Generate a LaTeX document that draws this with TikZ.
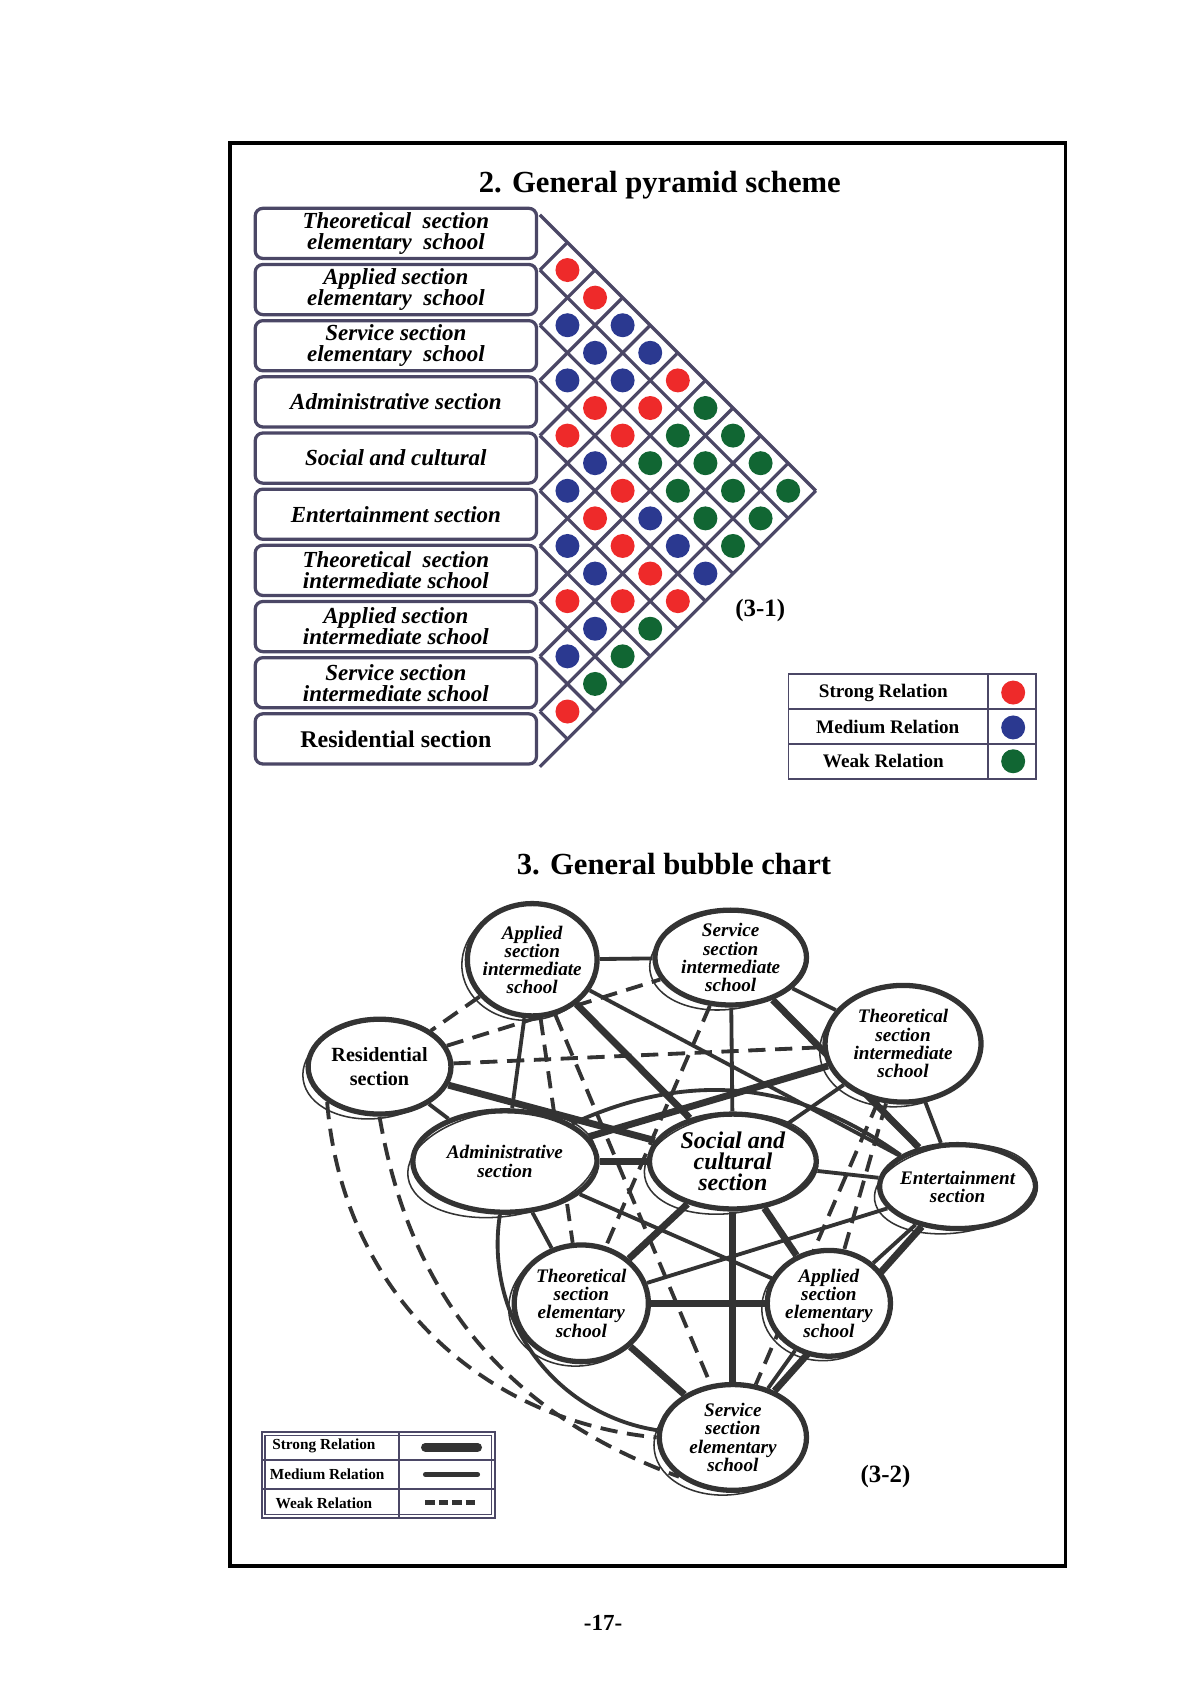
\documentclass[tikz,border=0pt]{standalone}
\usepackage{fontspec}
\setmainfont{Liberation Serif}
\usetikzlibrary{shapes.geometric}
\definecolor{pl}{HTML}{4B4766}
\definecolor{rd}{HTML}{EE2A2A}
\definecolor{bl}{HTML}{2B3990}
\definecolor{gn}{HTML}{116633}
\definecolor{ink}{HTML}{333333}
\begin{document}
\begin{tikzpicture}[x=0.02cm,y=-0.02cm,
  lbox/.style={draw=pl,line width=1.7pt,rounded corners=4pt,minimum width=5.16cm,minimum height=0.92cm,align=center,font=\fontsize{12}{11}\selectfont\bfseries\itshape,inner sep=0pt},
  bub/.style={ellipse,draw=ink,line width=2.2pt,fill=white,inner sep=0pt},
  sk/.style={draw=ink,line width=0.8pt},
  st/.style={draw=ink,line width=3.6pt},
  md/.style={draw=ink,line width=2pt},
  wk/.style={draw=ink,line width=2pt,dash pattern=on 9pt off 5pt},
  btx/.style={align=center,font=\fontsize{10}{9.5}\selectfont\bfseries\itshape},
  ttl/.style={font=\fontsize{16}{18}\selectfont\bfseries}]
\useasboundingbox (0,0) rectangle (1100,1556);
\draw[line width=2pt] (211,131) rectangle (977,1436);
\node[ttl] (t1) at (605,170) {2. General pyramid scheme};
\node[ttl] (t2) at (618,792) {3. General bubble chart};
% pyramid
\def\xo{495}\def\yt{197}\def\p{50.6}
\foreach \k in {0,...,9}{
  \draw[pl,line width=1.7pt] (\xo,\yt+\k*\p) -- ++({(10-\k)*\p/2},{(10-\k)*\p/2});}
\foreach \k in {1,...,10}{
  \draw[pl,line width=1.7pt] (\xo,\yt+\k*\p) -- ++({\k*\p/2},{-\k*\p/2});}
\foreach \i/\j/\c in {0/1/rd,0/2/rd,1/2/bl,0/3/bl,1/3/bl,0/4/bl,2/3/bl,1/4/bl,0/5/rd,
 2/4/rd,1/5/rd,0/6/gn,3/4/rd,2/5/rd,1/6/gn,0/7/gn,3/5/bl,2/6/gn,1/7/gn,0/8/gn,
 4/5/bl,3/6/rd,2/7/gn,1/8/gn,0/9/gn,4/6/rd,3/7/bl,2/8/gn,1/9/gn,5/6/bl,4/7/rd,3/8/bl,2/9/gn,
 5/7/bl,4/8/rd,3/9/bl,6/7/rd,5/8/rd,4/9/rd,6/8/bl,5/9/gn,7/8/bl,6/9/gn,7/9/gn,8/9/rd}{
  \fill[\c] ({\xo+(\j-\i)*\p/2},{\yt+(\i+\j+1)*\p/2}) circle (11);}
\foreach \t [count=\n from 0] in {{Theoretical\ \ section\\elementary\ \ school},{Applied section\\elementary\ \ school},{Service section\\elementary\ \ school},{Administrative section},{Social and cultural},{Entertainment section},{Theoretical\ \ section\\intermediate school},{Applied section\\intermediate school},{Service section\\intermediate school}}{
  \node[lbox] (l\n) at (363,{214+51.5*\n}) {\t};}
\node[lbox,font=\fontsize{12.5}{12}\selectfont\bfseries] (l9) at (363,{214+51.5*9}) {Residential section};
\node[font=\fontsize{13}{14}\selectfont\bfseries] (n31) at (697,560) {(3-1)};
% legend 1
\draw[pl,line width=1pt] (723,618) rectangle (950,714) (723,650)--(950,650) (723,682)--(950,682) (906,618)--(906,714);
\node[font=\fontsize{10}{11}\selectfont\bfseries] (s1) at (810,635) {Strong Relation};
\node[font=\fontsize{10}{11}\selectfont\bfseries] (m1) at (814,667) {Medium Relation};
\node[font=\fontsize{10}{11}\selectfont\bfseries] (w1) at (810,698) {Weak Relation};
\fill[rd] (929,635) circle (11); \fill[bl] (929,667) circle (11); \fill[gn] (929,698) circle (11);
% bubble shapes (named, text placed afterwards)
\foreach \n/\x/\y/\rx/\ry in {asi/488/880/60/52,ssi/670/878/70/44,tsi/828/957/72/54,res/348/978/66/44,adm/463/1065/85/47,soc/672/1065/77/44,ent/878/1088/72/39,tse/533/1195/62/54,aee/760/1195/57/49,sse/672/1318/68/49}{
  \node[bub,minimum width={\rx*0.04cm},minimum height={\ry*0.04cm}] (\n) at (\x,\y) {};}
% edges
\foreach \a/\b/\s in {asi/ssi/md,ssi/tsi/md,res/adm/md,asi/adm/md,asi/ent/md,ssi/soc/md,tsi/ent/md,tsi/soc/md,adm/tse/md,adm/aee/md,soc/ent/md,ent/tse/md,ent/aee/md,aee/sse/md,
  res/soc/st,asi/soc/st,ssi/ent/st,tsi/adm/st,adm/soc/st,soc/tse/st,soc/sse/st,soc/aee/st,ent/sse/st,tse/aee/st,tse/sse/st,
  asi/res/wk,res/ssi/wk,res/tsi/wk,asi/tse/wk,asi/sse/wk,ssi/tse/wk,tsi/aee/wk,tsi/sse/wk}{
  \draw[\s] (\a) -- (\b);}
\draw[md] (adm) to[bend right=45] (sse);
\draw[md] (adm.north east) to[bend left=30] (ent.north west);
\draw[wk] (res.south west) to[bend right=40] (sse.west);
\draw[wk] (res.south) to[bend right=30] (sse.south west);
% bubbles on top
\foreach \n/\x/\y/\rx/\ry in {asi/488/880/60/52,ssi/670/878/70/44,tsi/828/957/72/54,res/348/978/66/44,adm/463/1065/85/47,soc/672/1065/77/44,ent/878/1088/72/39,tse/533/1195/62/54,aee/760/1195/57/49,sse/672/1318/68/49}{
  \filldraw[fill=white,draw=ink,line width=2.2pt] (\x,\y) ellipse (\rx-1 and \ry-1);
  \draw[sk,rotate around={8:(\x,\y)}] (\x-3,\y+2) ellipse ({\rx+2} and {\ry+1});}
\node[btx] (tasi) at (asi) {Applied\\section\\intermediate\\school};
\node[btx] (tssi) at (ssi) {Service\\section\\intermediate\\school};
\node[btx] (ttsi) at (tsi) {Theoretical\\section\\intermediate\\school};
\node[btx] (tent) at (ent) {Entertainment\\section};
\node[btx] (ttse) at (tse) {Theoretical\\section\\elementary\\school};
\node[btx] (taee) at (aee) {Applied\\section\\elementary\\school};
\node[btx] (tsse) at (sse) {Service\\section\\elementary\\school};
\node[btx] (tadm) at (adm) {Administrative\\section};
\node[align=center,font=\fontsize{10.5}{13}\selectfont\bfseries] (tres) at (res) {Residential\\section};
\node[align=center,font=\fontsize{12.5}{11}\selectfont\bfseries\itshape] (tsoc) at (soc) {Social and\\cultural\\section};
\node[font=\fontsize{13}{14}\selectfont\bfseries] (n32) at (812,1354) {(3-2)};
% legend 2
\draw[pl,line width=1pt] (240,1313) rectangle (454,1392) (240,1339)--(454,1339) (240,1365)--(454,1365) (366,1313)--(366,1392);
\draw[pl,line width=0.6pt] (243,1316) rectangle (451,1389);
\node[font=\fontsize{8}{9}\selectfont\bfseries] (s2) at (297,1326) {Strong Relation};
\node[font=\fontsize{8}{9}\selectfont\bfseries] (m2) at (300,1352) {Medium Relation};
\node[font=\fontsize{8}{9}\selectfont\bfseries] (w2) at (297,1378) {Weak Relation};
\coordinate (a1) at (390,1327); \coordinate (a2) at (438,1327);
\coordinate (b1) at (390,1352); \coordinate (b2) at (438,1352);
\coordinate (c1) at (390,1378); \coordinate (c2) at (438,1378);
\draw[ink,line width=4.5pt,line cap=round] (a1)--(a2);
\draw[ink,line width=2.5pt,line cap=round] (b1)--(b2);
\draw[ink,line width=2.5pt,dash pattern=on 5pt off 2pt] (c1)--(c2);
\node[font=\fontsize{12}{13}\selectfont\bfseries] (pg) at (553,1488) {-17-};
\end{tikzpicture}
\end{document}
